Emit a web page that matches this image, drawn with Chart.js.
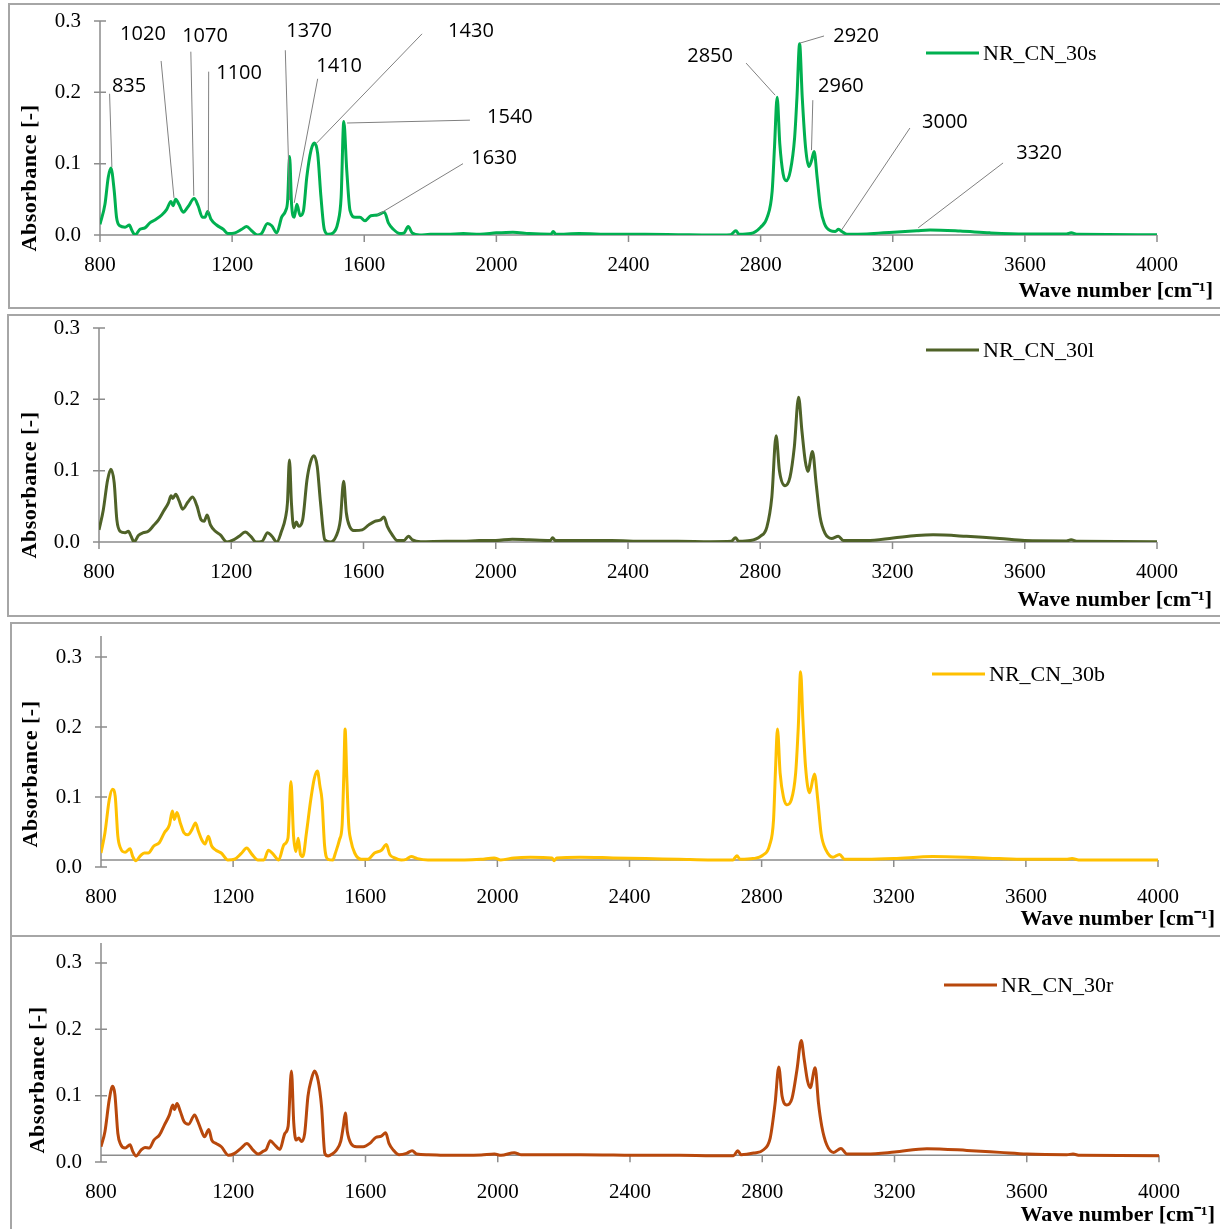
<!DOCTYPE html>
<html>
<head>
<meta charset="utf-8">
<script src="https://cdn.jsdelivr.net/npm/chart.js@4.4.1/dist/chart.umd.min.js"></script>
<style>
    body { margin: 0; background: #fff; width: 1220px; height: 1229px; overflow: hidden; position: relative; }
    .frame { position: absolute; border: 2px solid #a6a6a6; box-sizing: border-box; }
    canvas { position: absolute; left: 0; }
</style>
</head>
<body>
<div class="frame" style="left:8px; top:3px; width:1240px; height:306px;"></div>
<div class="frame" style="left:7px; top:314px; width:1240px; height:303px;"></div>
<div class="frame" style="left:10px; top:622px; width:1240px; height:315px;"></div>
<div class="frame" style="left:10px; top:935px; width:1240px; height:320px;"></div>

<canvas id="c1" width="1220" height="310" style="top:0px"></canvas>
<canvas id="c2" width="1220" height="310" style="top:310px"></canvas>
<canvas id="c3" width="1220" height="316" style="top:620px"></canvas>
<canvas id="c4" width="1220" height="293" style="top:936px"></canvas>

<script>
// ticks
const xTicks = [800, 1200, 1600, 2000, 2400, 2800, 3200, 3600, 4000];
const yTicks = [0, 0.1, 0.2, 0.3];

// NR_CN_30s
const wnS = [800, 815, 825, 833, 843, 850, 860, 876, 889, 896, 906, 921, 936, 951, 966, 987, 1002, 1015, 1021, 1029,
    1039, 1052, 1067, 1085, 1097, 1110, 1118, 1126, 1136, 1153, 1173, 1188, 1209, 1229, 1244, 1259, 1277, 1289, 1307, 1320,
    1335, 1350, 1362, 1368, 1374, 1380, 1388, 1396, 1406, 1416, 1426, 1439, 1449, 1459, 1469, 1479, 1491, 1506, 1520, 1530,
    1538, 1547, 1557, 1572, 1587, 1602, 1620, 1640, 1661, 1673, 1688, 1708, 1721, 1733, 1745, 1768, 1800, 1850, 1900, 1950,
    2000, 2050, 2100, 2165, 2172, 2180, 2250, 2350, 2450, 2550, 2650, 2709, 2725, 2735, 2770, 2800, 2820, 2835, 2842, 2850,
    2858, 2868, 2878, 2890, 2903, 2910, 2918, 2926, 2936, 2946, 2954, 2962, 2971, 2981, 2993, 3011, 3026, 3036, 3046, 3062,
    3122, 3202, 3273, 3313, 3404, 3494, 3600, 3726, 3740, 3760, 4000];
const absS = [.015, .043, .081, .094, .062, .025, .013, .011, .014, .007, .000, .008, .010, .017, .021, .028, .036, .047, .041, .050,
    .043, .032, .040, .051, .041, .025, .025, .033, .022, .014, .008, .002, .003, .008, .012, .006, .000, .002, .016, .013,
    .003, .025, .034, .048, .110, .043, .025, .043, .027, .034, .081, .119, .129, .114, .053, .008, .001, .003, .017, .053,
    .159, .091, .034, .025, .025, .020, .027, .028, .032, .017, .008, .002, .003, .012, .003, .000, .001, .001, .002, .001,
    .003, .004, .002, .001, .005, .001, .002, .001, .001, .0005, .000, .0005, .006, .001, .002, .011, .025, .062, .123, .193,
    .128, .086, .076, .090, .137, .193, .268, .193, .123, .096, .104, .117, .081, .039, .016, .006, .005, .008, .005, .001,
    .0015, .004, .006, .007, .0055, .003, .0015, .0015, .003, .001, .0005];

// NR_CN_30l
const wnL = [800, 813, 826, 836, 846, 854, 864, 879, 889, 897, 906, 919, 934, 949, 965, 980, 995, 1010, 1018, 1023,
    1032, 1042, 1053, 1069, 1083, 1096, 1109, 1118, 1127, 1137, 1152, 1167, 1187, 1207, 1224, 1242, 1259, 1275, 1293, 1310,
    1323, 1338, 1352, 1364, 1370, 1376, 1382, 1389, 1397, 1404, 1416, 1429, 1439, 1450, 1460, 1470, 1483, 1500, 1517, 1530,
    1540, 1548, 1558, 1574, 1596, 1616, 1634, 1652, 1662, 1672, 1687, 1702, 1722, 1736, 1748, 1773, 1850, 1900, 1950, 2000,
    2050, 2100, 2165, 2172, 2180, 2250, 2350, 2450, 2550, 2650, 2712, 2725, 2735, 2770, 2800, 2820, 2835, 2848, 2858, 2875,
    2890, 2903, 2916, 2926, 2936, 2944, 2958, 2969, 2981, 2996, 3016, 3036, 3052, 3122, 3202, 3273, 3323, 3424, 3524, 3600,
    3726, 3740, 3760, 4000];
const absL = [.017, .045, .087, .102, .083, .031, .015, .013, .015, .008, .000, .009, .013, .015, .023, .031, .043, .055, .065, .061,
    .067, .058, .046, .056, .063, .051, .031, .029, .038, .024, .015, .010, .000, .003, .008, .014, .008, .000, .001, .013,
    .008, .000, .015, .034, .055, .115, .055, .020, .028, .022, .031, .087, .111, .121, .106, .055, .003, .000, .008, .031,
    .085, .041, .022, .016, .017, .024, .029, .031, .035, .022, .010, .002, .002, .008, .003, .0005, .001, .001, .002, .002,
    .004, .003, .002, .006, .002, .002, .002, .001, .001, .0005, .001, .006, .001, .002, .008, .021, .063, .149, .100, .079,
    .091, .133, .203, .156, .114, .099, .127, .082, .035, .012, .005, .008, .002, .002, .0055, .009, .010, .008, .005, .002,
    .0015, .003, .001, .0005];

// NR_CN_30b
const wnB = [800, 812, 825, 835, 843, 851, 859, 873, 888, 896, 906, 919, 931, 943, 960, 977, 992, 1007, 1016, 1022,
    1030, 1040, 1051, 1063, 1075, 1086, 1095, 1105, 1115, 1125, 1135, 1148, 1164, 1184, 1204, 1224, 1241, 1257, 1275, 1293,
    1307, 1320, 1338, 1354, 1366, 1375, 1383, 1390, 1397, 1404, 1411, 1422, 1435, 1446, 1455, 1463, 1469, 1477, 1487, 1502,
    1509, 1522, 1530, 1535, 1539, 1544, 1550, 1556, 1568, 1588, 1608, 1628, 1649, 1664, 1674, 1689, 1709, 1724, 1739, 1758,
    1790, 1850, 1900, 1950, 1990, 2010, 2050, 2100, 2165, 2172, 2180, 2250, 2350, 2450, 2550, 2650, 2713, 2725, 2735, 2774,
    2804, 2824, 2836, 2842, 2848, 2856, 2866, 2876, 2890, 2903, 2911, 2918, 2925, 2933, 2945, 2960, 2970, 2980, 2995, 3016,
    3036, 3051, 3116, 3200, 3318, 3419, 3519, 3600, 3721, 3740, 3760, 4000];
const absB = [.020, .049, .096, .111, .101, .044, .027, .021, .026, .015, .009, .016, .020, .020, .030, .035, .049, .060, .080, .068,
    .078, .063, .049, .046, .053, .063, .051, .039, .033, .044, .030, .024, .020, .010, .011, .019, .027, .018, .010, .010,
    .024, .019, .010, .032, .041, .122, .044, .022, .041, .018, .015, .049, .096, .127, .137, .115, .096, .030, .011, .010,
    .019, .039, .060, .130, .197, .130, .060, .039, .020, .011, .011, .020, .024, .032, .018, .013, .010, .011, .015, .012,
    .010, .010, .010, .011, .013, .010, .013, .014, .013, .009, .013, .014, .013, .012, .011, .010, .010, .016, .011, .012,
    .017, .031, .067, .139, .197, .134, .100, .089, .096, .134, .200, .279, .210, .143, .106, .133, .096, .048, .024, .014,
    .018, .011, .011, .012, .015, .014, .012, .011, .011, .012, .010, .010];

// NR_CN_30r
const wnR = [800, 812, 825, 835, 842, 851, 859, 873, 888, 896, 906, 921, 933, 946, 960, 977, 992, 1007, 1017, 1022,
    1030, 1040, 1051, 1065, 1083, 1093, 1103, 1113, 1126, 1135, 1148, 1164, 1186, 1204, 1224, 1241, 1260, 1275, 1290, 1300,
    1312, 1325, 1341, 1356, 1366, 1376, 1383, 1390, 1398, 1406, 1416, 1426, 1436, 1446, 1457, 1467, 1477, 1487, 1499, 1512,
    1525, 1533, 1539, 1545, 1556, 1573, 1593, 1613, 1631, 1648, 1661, 1671, 1684, 1701, 1724, 1741, 1755, 1790, 1850, 1900,
    1950, 1990, 2010, 2050, 2070, 2150, 2250, 2350, 2450, 2550, 2650, 2713, 2726, 2736, 2774, 2804, 2824, 2839, 2850, 2860,
    2874, 2890, 2905, 2918, 2927, 2937, 2945, 2960, 2970, 2980, 2995, 3016, 3038, 3056, 3116, 3200, 3298, 3419, 3519, 3600,
    3721, 3740, 3760, 4000];
const absR = [.023, .046, .094, .114, .102, .043, .027, .021, .026, .016, .009, .018, .022, .021, .033, .041, .056, .071, .086, .079,
    .088, .076, .061, .057, .071, .061, .048, .038, .049, .033, .028, .023, .010, .013, .021, .028, .018, .012, .016, .019,
    .032, .026, .019, .043, .054, .137, .059, .033, .036, .031, .043, .099, .124, .137, .122, .084, .013, .009, .012, .018,
    .031, .054, .074, .046, .028, .023, .023, .028, .037, .039, .044, .028, .018, .011, .013, .017, .012, .011, .010, .010,
    .0105, .012, .010, .014, .011, .011, .011, .0105, .010, .010, .0095, .0095, .017, .011, .0135, .0185, .036, .089, .143, .099,
    .086, .096, .139, .183, .154, .122, .112, .142, .089, .054, .026, .0145, .0205, .012, .012, .015, .020, .0175, .0145, .012,
    .011, .012, .010, .0095];

// peak callouts in the top panel
const peakLabels = ['835', '1020', '1070', '1100', '1370', '1410', '1430', '1540', '1630', '2850', '2920', '2960', '3000', '3320'];
// [label x, label y, leader from x, y, leader to x, y] in wave number / absorbance
const calloutPos = [
    [888, .209, 829, .198, 836, .095],
    [930, .281, 985, .244, 1024, .052],
    [1118, .279, 1075, .257, 1084, .055],
    [1221, .227, 1129, .229, 1128, .031],
    [1433, .285, 1361, .259, 1374, .049],
    [1524, .236, 1459, .219, 1388, .045],
    [1923, .285, 1775, .282, 1454, .128],
    [2041, .165, 1920, .161, 1548, .157],
    [1993, .107, 1899, .100, 1640, .028],
    [2647, .251, 2756, .241, 2844, .196],
    [3089, .278, 2992, .279, 2919, .269],
    [3043, .209, 2958, .189, 2954, .119],
    [3358, .158, 3252, .150, 3045, .007],
    [3643, .114, 3534, .101, 3277, .010]
];

const axisColor = '#8c8c8c';
const serif = '"Liberation Serif", "Times New Roman", serif';

const excelAxes = {
    id: 'excelAxes',
    beforeDatasetsDraw(chart, args, o) {
        const { ctx, scales: { x, y } } = chart;
        const left = x.getPixelForValue(800), right = x.getPixelForValue(4000);
        const yAxis = y.getPixelForValue(o.crossAt);
        const yZero = y.getPixelForValue(0);

        ctx.save();
        ctx.strokeStyle = axisColor;
        ctx.lineWidth = 1.5;
        ctx.beginPath();
        ctx.moveTo(left, yZero);
        ctx.lineTo(left, y.getPixelForValue(y.max));
        yTicks.forEach(v => {
            const p = y.getPixelForValue(v);
            ctx.moveTo(left - 6, p);
            ctx.lineTo(left + 6, p);
        });
        ctx.moveTo(left, yAxis);
        ctx.lineTo(right, yAxis);
        xTicks.forEach(v => {
            const p = x.getPixelForValue(v);
            ctx.moveTo(p, yAxis);
            ctx.lineTo(p, yAxis + 7);
        });
        ctx.stroke();

        ctx.fillStyle = '#000';
        ctx.font = '21px ' + serif;
        ctx.textBaseline = 'middle';
        ctx.textAlign = 'right';
        yTicks.forEach(v => ctx.fillText(v.toFixed(1), left - 19, y.getPixelForValue(v)));
        ctx.textAlign = 'center';
        xTicks.forEach(v => ctx.fillText(String(v), x.getPixelForValue(v), yZero + 30));

        ctx.font = 'bold 22px ' + serif;
        ctx.textAlign = 'right';
        ctx.fillText('Wave number [cm\u207B\u00B9]', o.xTitleRight, yZero + o.xTitleDy);

        ctx.save();
        ctx.translate(o.yTitleX, o.yTitleY);
        ctx.rotate(-Math.PI / 2);
        ctx.textAlign = 'center';
        ctx.letterSpacing = '0.5px';
        ctx.fillText('Absorbance [-]', 0, 0);
        ctx.restore();
        ctx.restore();
    },
    afterDatasetsDraw(chart, args, o) {
        const { ctx, scales: { x, y } } = chart;
        const ds = chart.data.datasets[0];
        ctx.save();
        // legend
        ctx.strokeStyle = ds.borderColor;
        ctx.lineWidth = 3;
        ctx.beginPath();
        ctx.moveTo(o.legendX, o.legendY);
        ctx.lineTo(o.legendX + 53, o.legendY);
        ctx.stroke();
        ctx.fillStyle = '#000';
        ctx.font = '22px ' + serif;
        ctx.textBaseline = 'middle';
        ctx.textAlign = 'left';
        ctx.fillText(ds.label, o.legendX + 57, o.legendY + 1);

        if (o.callouts) {
            ctx.strokeStyle = '#808080';
            ctx.lineWidth = 1;
            ctx.font = '20px "Open Sans", "Liberation Sans", sans-serif';
            ctx.textAlign = 'center';
            calloutPos.forEach((c, i) => {
                ctx.beginPath();
                ctx.moveTo(x.getPixelForValue(c[2]), y.getPixelForValue(c[3]));
                ctx.lineTo(x.getPixelForValue(c[4]), y.getPixelForValue(c[5]));
                ctx.stroke();
                ctx.fillText(peakLabels[i], x.getPixelForValue(c[0]), y.getPixelForValue(c[1]));
            });
        }
        ctx.restore();
    }
};

function drawPanel(id, label, wn, abs, color, yMax, pad, axisOpts) {
    new Chart(document.getElementById(id), {
        type: 'line',
        data: {
            datasets: [{
                label: label,
                data: wn.map((w, i) => ({ x: w, y: abs[i] })),
                borderColor: color,
                borderWidth: 3,
                pointRadius: 0,
                cubicInterpolationMode: 'monotone'
            }]
        },
        options: {
            responsive: false,
            animation: false,
            layout: { padding: pad },
            scales: {
                x: { type: 'linear', min: 800, max: 4000, display: false },
                y: { min: 0, max: yMax, display: false }
            },
            plugins: {
                legend: { display: false },
                tooltip: { enabled: false },
                excelAxes: axisOpts
            }
        },
        plugins: [excelAxes]
    });
}

drawPanel('c1', 'NR_CN_30s', wnS, absS, '#00b050', 0.3,
    { left: 100, right: 63, top: 21, bottom: 75 },
    { crossAt: 0, xTitleRight: 1213, xTitleDy: 56, yTitleX: 30, yTitleY: 178, legendX: 926, legendY: 53, callouts: true });

drawPanel('c2', 'NR_CN_30l', wnL, absL, '#4f6228', 0.3,
    { left: 99, right: 63, top: 18, bottom: 78 },
    { crossAt: 0, xTitleRight: 1212, xTitleDy: 58, yTitleX: 30, yTitleY: 175, legendX: 926, legendY: 40 });

drawPanel('c3', 'NR_CN_30b', wnB, absB, '#ffc000', 0.33,
    { left: 101, right: 62, top: 16, bottom: 69 },
    { crossAt: 0.01, xTitleRight: 1215, xTitleDy: 52, yTitleX: 31, yTitleY: 154, legendX: 932, legendY: 54 });

drawPanel('c4', 'NR_CN_30r', wnR, absR, '#b8480c', 0.33,
    { left: 101, right: 61, top: 7, bottom: 67 },
    { crossAt: 0.01, xTitleRight: 1215, xTitleDy: 53, yTitleX: 38, yTitleY: 144, legendX: 944, legendY: 49 });
</script>
</body>
</html>
